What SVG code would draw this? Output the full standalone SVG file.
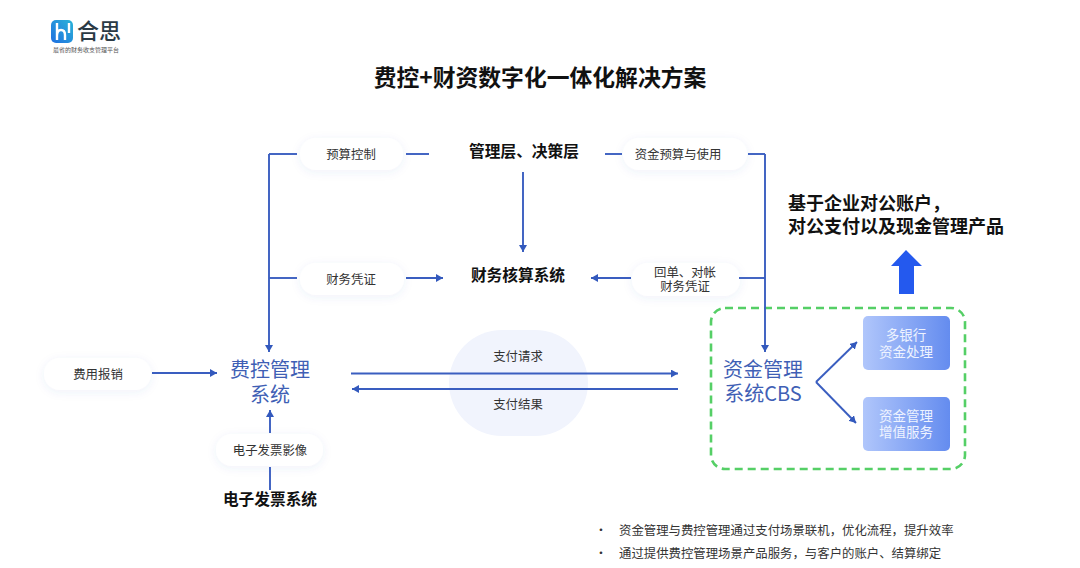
<svg xmlns="http://www.w3.org/2000/svg" width="1080" height="568" viewBox="0 0 1080 568">
<style>
text{font-family:"Noto Sans CJK SC","Noto Sans",sans-serif;text-anchor:middle;fill:#222}
.s{font-size:12.4px;fill:#333}
.b{font-weight:700;fill:#111}
.sys{font-size:20px;fill:#3f5fb5}
.w{font-size:13.5px;fill:#eef3ff}
.l{text-anchor:start}
.pill{fill:#fff;filter:url(#sh)}
.c{fill:none;stroke:#3a5ec0;stroke-width:1.9}
.a{marker-end:url(#ar)}
.box{fill:url(#bg)}
</style>
<defs>
<filter id="sh" x="-30%" y="-60%" width="160%" height="220%"><feDropShadow dx="0" dy="2" stdDeviation="5" flood-color="#3f61bd" flood-opacity=".08"/></filter>
<marker id="ar" markerUnits="userSpaceOnUse" markerWidth="8" markerHeight="9" refX="7" refY="4" orient="auto"><path d="M0 0L7 4L0 8Z" fill="#3359bd"/></marker>
<linearGradient id="bg" x1="0" x2="1" y1="0" y2="0"><stop offset="0" stop-color="#b0c6fb"/><stop offset="1" stop-color="#648cef"/></linearGradient>
<linearGradient id="lg" x1="0" x2="1" y1="1" y2="0"><stop offset="0" stop-color="#1f6fe0"/><stop offset="1" stop-color="#2bb4d8"/></linearGradient>
</defs>
<rect width="1080" height="568" fill="#fff"/>
<g id="logo">
<rect x="51" y="20" width="22" height="23" rx="5" fill="url(#lg)"/>
<path d="M57 23V40M57 36Q57 30 61 30Q65 30 65 35V40M69 23V33" fill="none" stroke="#fff" stroke-width="2.4"/>
<text x="99" y="39" style="font-size:22px;font-weight:500;fill:#2b3a45">合思</text>
<text x="86" y="52" style="font-size:6px;fill:#555">最省的财务收支管理平台</text>
</g>
<text id="title" class="b" x="540" y="86" style="font-size:22.8px">费控+财资数字化一体化解决方案</text>
<rect id="blob" x="449" y="330" width="139" height="106" rx="53" fill="#f1f4fd"/>
<g id="n-budget"><rect class="pill" x="300" y="138" width="103" height="32" rx="16"/><text class="s" x="351" y="159">预算控制</text></g>
<g id="n-voucher"><rect class="pill" x="300" y="263" width="104" height="32" rx="16"/><text class="s" x="351" y="284">财务凭证</text></g>
<g id="n-use"><rect class="pill" x="623" y="138" width="124" height="32" rx="16"/><text class="s" x="678" y="159">资金预算与使用</text></g>
<g id="n-receipt"><rect class="pill" x="632" y="263" width="108" height="33" rx="16"/><text class="s" x="685" y="277">回单、对帐</text><text class="s" x="685" y="291">财务凭证</text></g>
<g id="n-expense"><rect class="pill" x="44" y="358" width="107" height="32" rx="16"/><text class="s" x="98" y="379">费用报销</text></g>
<g id="n-image"><rect class="pill" x="216" y="434" width="107" height="32" rx="16"/><text class="s" x="270" y="455">电子发票影像</text></g>
<g id="n-mgmt"><text class="b" x="524" y="157" style="font-size:15.7px">管理层、决策层</text></g>
<g id="n-acct"><text class="b" x="518" y="281" style="font-size:15.7px">财务核算系统</text></g>
<g id="n-inv"><text class="b" x="270" y="505" style="font-size:15.7px">电子发票系统</text></g>
<g id="n-fk"><text class="sys" x="270" y="377">费控管理</text><text class="sys" x="270" y="402">系统</text></g>
<g id="n-cbs"><text class="sys" x="763" y="377">资金管理</text><text class="sys" x="763" y="401">系统CBS</text></g>
<g id="n-pay"><text class="s" x="518" y="361">支付请求</text><text class="s" x="518" y="409">支付结果</text></g>
<g id="n-bank"><rect class="box" x="863" y="316" width="87" height="54" rx="5"/><text class="w" x="906" y="340">多银行</text><text class="w" x="906" y="357">资金处理</text></g>
<g id="n-value"><rect class="box" x="863" y="397" width="87" height="54" rx="5"/><text class="w" x="906" y="421">资金管理</text><text class="w" x="906" y="437">增值服务</text></g>
<rect id="frame" x="711" y="308" width="254" height="161" rx="14" fill="none" stroke="#55cf66" stroke-width="2.6" stroke-dasharray="8 5"/>
<path id="up" d="M906 250L922 266H914V294H899V266H891Z" fill="#2459ee"/>
<g id="n-base"><text class="b l" x="788" y="210" style="font-size:18px">基于企业对公账户，</text><text class="b l" x="788" y="233" style="font-size:18px">对公支付以及现金管理产品</text></g>
<g id="notes">
<text class="s" x="601" y="535">•</text><text class="s l" x="619" y="535">资金管理与费控管理通过支付场景联机，优化流程，提升效率</text>
<text class="s" x="601" y="558">•</text><text class="s l" x="619" y="558">通过提供费控管理场景产品服务，与客户的账户、结算绑定</text>
</g>
<g id="connectors">
<path class="c" d="M297 154H269"/>
<path class="c a" d="M269 154V352"/>
<path class="c" d="M406 154H429"/>
<path class="c" d="M269 278H297"/>
<path class="c a" d="M406 278H443"/>
<path class="c a" d="M523 172V252"/>
<path class="c" d="M605 154H622"/>
<path class="c" d="M748 154H765"/>
<path class="c a" d="M765 154V352"/>
<path class="c" d="M739 278H765"/>
<path class="c a" d="M631 278H591"/>
<path class="c a" d="M152 373H217"/>
<path class="c" d="M270 490V467"/>
<path class="c a" d="M270 433V410"/>
<path class="c a" d="M351 373.500H678"/>
<path class="c a" d="M678 389H352"/>
<path class="c a" d="M816 382L857 342"/>
<path class="c a" d="M816 382L856 423"/>
</g>
</svg>
